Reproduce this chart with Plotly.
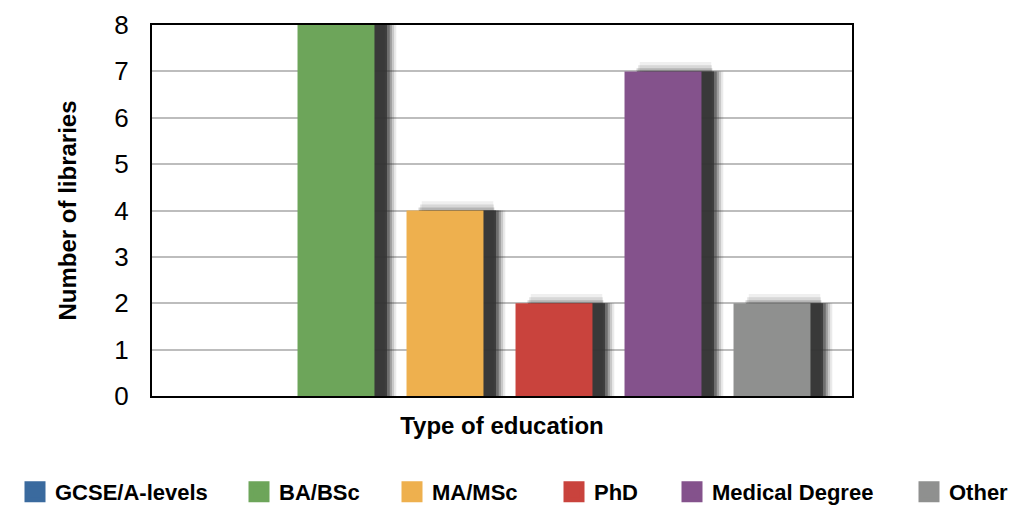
import plotly.graph_objects as go

categories = ["GCSE/A-levels", "BA/BSc", "MA/MSc", "PhD", "Medical Degree", "Other"]
values = [0, 8, 4, 2, 7, 2]
colors = ["#3A6A9E", "#6DA55A", "#EEB04E", "#C9433D", "#84528C", "#8F908F"]
y_ticks = [0, 1, 2, 3, 4, 5, 6, 7, 8]
# legend swatch left edges (px) as laid out in the original
legend_px = [17, 241, 394, 556, 674, 911]

FONT = "Liberation Sans, Arial, sans-serif"
BAR_W = 0.706
OFF = 8  # the page body adds an 8px margin around the figure
PLOT_L, PLOT_W = 152 - OFF, 700
PLOT_T, PLOT_H = 25 - OFF, 371
PLOT_B = PLOT_T + PLOT_H
FIG_W, FIG_H = 1017, 518

fig = go.Figure()

# soft drop shadows (drawn first, behind the bars)
n = len(categories)
halo_layers = [(0.115, BAR_W - 0.05, 0.2, 0.08), (0.11, BAR_W - 0.03, 0.13, 0.12),
               (0.105, BAR_W - 0.01, 0.065, 0.2)]
for shift, w, extra, op in halo_layers:
    fig.add_trace(go.Bar(
        x=[i + shift for i in range(n)],
        y=[v + extra if v > 0 else 0 for v in values],
        width=w,
        marker=dict(color=f"rgba(45,45,45,{op})", line=dict(width=0)),
        showlegend=False, hoverinfo="skip",
    ))
shadow_layers = [(0.2, 0.1), (0.18, 0.18), (0.16, 0.28), (0.14, 0.45), (0.115, 0.8)]
for shift, op in shadow_layers:
    fig.add_trace(go.Bar(
        x=[i + shift for i in range(n)],
        y=values,
        width=BAR_W,
        marker=dict(color=f"rgba(50,50,50,{op})", line=dict(width=0)),
        showlegend=False, hoverinfo="skip",
    ))

legend_layouts = {}
for i, (cat, val, col) in enumerate(zip(categories, values, colors)):
    lname = "legend" if i == 0 else f"legend{i + 1}"
    fig.add_trace(go.Bar(
        x=[i], y=[val], width=BAR_W, name=cat, legendgroup=cat,
        marker=dict(color=col, line=dict(width=0)), showlegend=False,
    ))
    # legend entry with a large square swatch
    fig.add_trace(go.Scatter(
        x=[None], y=[None], mode="markers", name=cat, legendgroup=cat, legend=lname,
        marker=dict(symbol="square", size=26, color=col, line=dict(color=col, width=10)),
        showlegend=True,
    ))
    legend_layouts[lname] = dict(
        orientation="h", xref="paper", yref="paper",
        x=(legend_px[i] - OFF - 2 - PLOT_L) / PLOT_W, xanchor="left",
        y=-(492 - OFF - PLOT_B) / PLOT_H, yanchor="middle",
        font=dict(size=22, family=FONT, weight="bold"),
        itemwidth=30, itemsizing="trace", bgcolor="rgba(0,0,0,0)",
    )

fig.update_layout(
    width=FIG_W, height=FIG_H,
    barmode="overlay",
    paper_bgcolor="white", plot_bgcolor="white",
    margin=dict(l=PLOT_L, r=FIG_W - PLOT_L - PLOT_W, t=PLOT_T, b=FIG_H - PLOT_B, autoexpand=False),
    font=dict(family=FONT, color="black"),
    xaxis=dict(
        range=[-0.688, 5.734], showticklabels=False, showgrid=False,
        zeroline=False, showline=True, linecolor="black", linewidth=2, mirror=True,
        title=dict(text="Type of education", font=dict(size=24, family=FONT, weight="bold"), standoff=20),
    ),
    yaxis=dict(
        range=[0, 8], tickvals=y_ticks, showgrid=True, gridcolor="#BDBDBD", gridwidth=2,
        zeroline=False, showline=True, linecolor="black", linewidth=2, mirror=True,
        tickfont=dict(size=26, family=FONT),
        ticklabelstandoff=16,
        title=dict(text="Number of libraries", font=dict(size=24, family=FONT, weight="bold"), standoff=31),
    ),
    **legend_layouts,
)

fig.write_html("out.html")
